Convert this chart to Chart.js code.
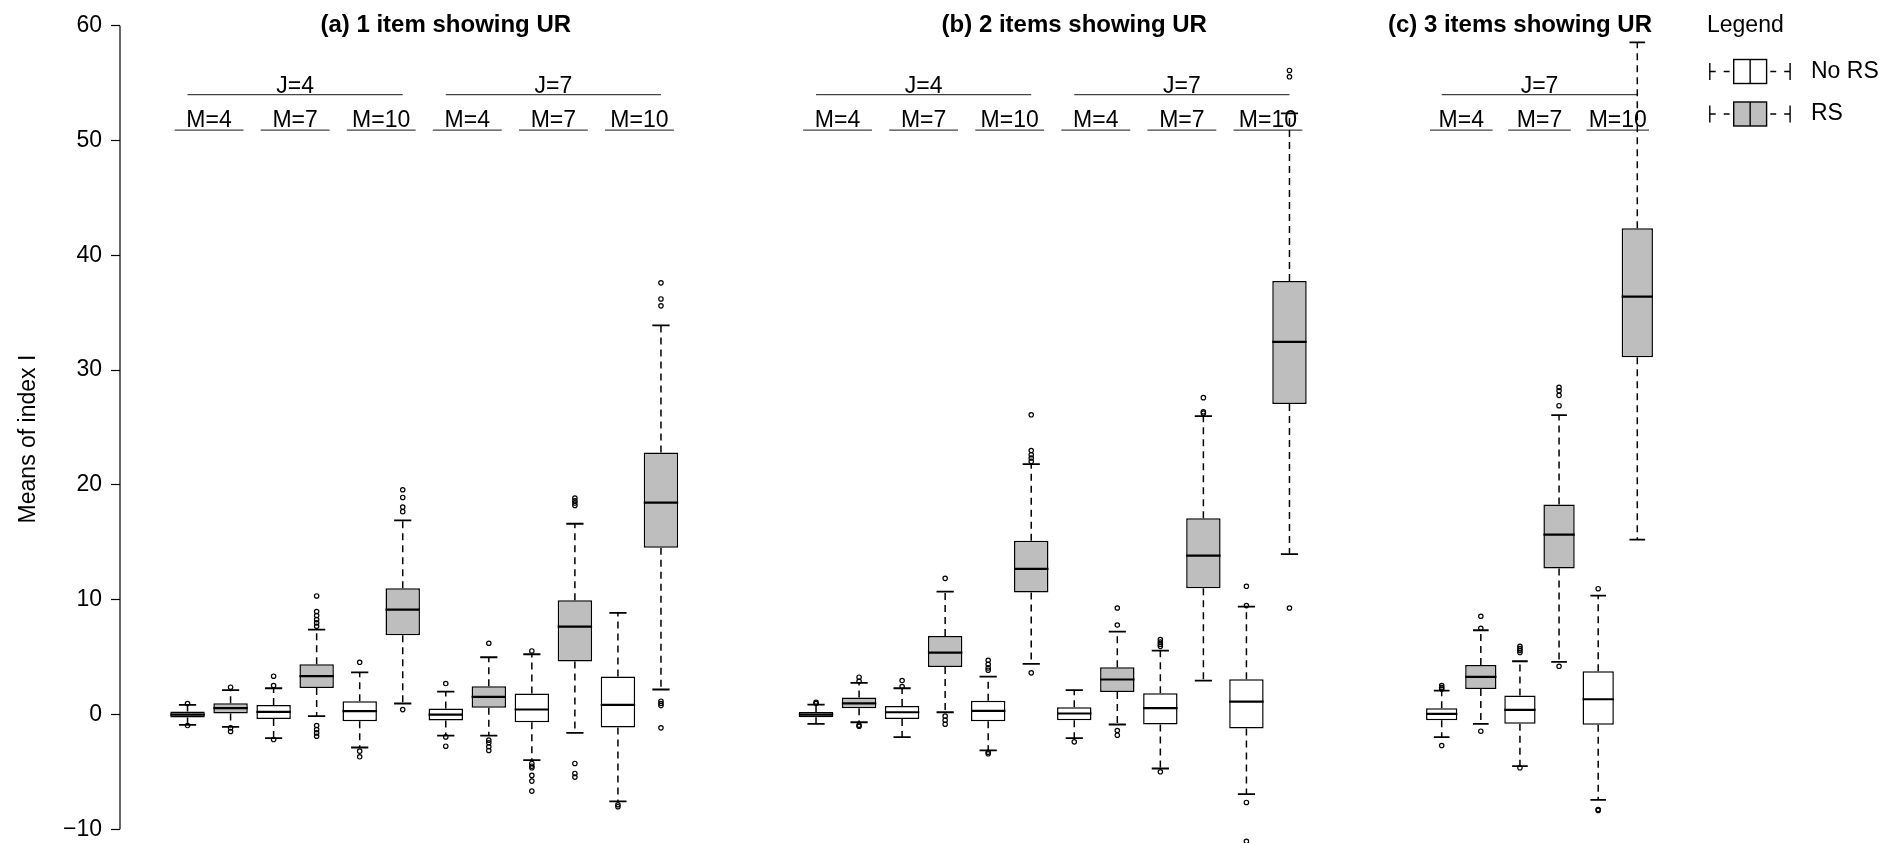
<!DOCTYPE html>
<html>
<head>
<meta charset="utf-8">
<script src="https://cdn.jsdelivr.net/npm/chart.js@4.4.1/dist/chart.umd.min.js"></script>
<style>
  html, body { margin: 0; padding: 0; background: #fff; overflow: hidden; }
  #wrap { position: relative; width: 1883px; height: 843px; overflow: hidden; }
  canvas { position: absolute; top: 0; }
</style>
</head>
<body>
<div id="wrap">
  <canvas id="panelA" width="740" height="880" style="left:0px"></canvas>
  <canvas id="panelB" width="630" height="880" style="left:740px"></canvas>
  <canvas id="panelC" width="513" height="880" style="left:1370px"></canvas>
</div>
<script>
// labels
const titles = ['(a) 1 item showing UR', '(b) 2 items showing UR', '(c) 3 items showing UR'];
const jLevelsAB = ['J=4', 'J=7'];
const jLevelsC = ['J=7'];
const mLevels = ['M=4', 'M=7', 'M=10'];
const legendLabels = ['No RS', 'RS'];
const yTicks = [-10, 0, 10, 20, 30, 40, 50, 60];

// (a) 1 item showing UR : boxes left to right (J=4 then J=7, M=4/7/10, pairs)
const aGroup = ['RS', 'RS', 'No RS', 'RS', 'No RS', 'RS', 'No RS', 'RS', 'No RS', 'RS', 'No RS', 'RS'];
const aLow  = [-0.90, -1.07, -2.06, -0.14, -2.87, 0.96, -1.83, -1.83, -3.97, -1.60, -7.57, 2.18];
const aQ1   = [-0.26, 0.09, -0.38, 2.32, -0.58, 6.90, -0.52, 0.58, -0.67, 4.61, -1.13, 14.53];
const aMed  = [0.00, 0.55, 0.23, 3.34, 0.29, 9.14, 0.00, 1.54, 0.44, 7.66, 0.84, 18.45];
const aQ3   = [0.26, 0.98, 0.84, 4.38, 1.16, 10.99, 0.52, 2.47, 1.83, 9.95, 3.31, 22.83];
const aHigh = [0.84, 2.12, 2.29, 7.40, 3.68, 16.91, 2.00, 4.99, 5.25, 16.62, 8.85, 33.90];
const aOut = [
  [0.96, -0.96],
  [2.38, -1.16, -1.48],
  [2.52, 3.34, -2.18],
  [10.33, 8.97, 8.62, 8.27, 7.98, 7.69, -0.96, -1.31, -1.60, -1.89],
  [4.55, -3.19, -3.68],
  [19.58, 18.91, 18.07, 17.67, 0.43],
  [2.70, -1.95, -2.76],
  [6.21, -2.23, -2.46, -2.81, -3.13],
  [5.54, -4.26, -4.50, -4.64, -5.30, -5.80, -6.67],
  [18.86, 18.62, 18.42, 18.21, -4.26, -5.13, -5.45],
  [-7.86, -8.03],
  [37.6, 36.2, 35.6, 1.16, 0.96, 0.78, -1.16]
];

// (b) 2 items showing UR
const bGroup = ['RS', 'RS', 'No RS', 'RS', 'No RS', 'RS', 'No RS', 'RS', 'No RS', 'RS', 'No RS', 'RS'];
const bLow  = [-0.81, -0.67, -1.97, 0.20, -3.13, 4.41, -2.06, -0.87, -4.70, 2.96, -6.93, 13.98];
const bQ1   = [-0.23, 0.55, -0.38, 4.15, -0.58, 10.64, -0.49, 1.97, -0.87, 10.99, -1.22, 27.04];
const bMed  = [0.00, 0.98, 0.20, 5.40, 0.32, 12.68, 0.09, 3.05, 0.55, 13.84, 1.13, 32.46];
const bQ3   = [0.23, 1.48, 0.75, 6.85, 1.19, 15.14, 0.64, 4.12, 1.86, 17.09, 3.07, 37.77];
const bHigh = [0.87, 2.76, 2.29, 10.70, 3.31, 21.82, 2.12, 7.22, 5.57, 26.00, 9.40, 52.37];
const bOut = [
  [1.07, 0.96],
  [3.25, 2.90, -0.93, -1.02],
  [2.96, 2.44],
  [11.86, -0.14, -0.49, -0.84],
  [4.73, 4.38, 4.06, 3.86, -3.28, -3.42],
  [26.11, 23.00, 22.63, 22.34, 22.05, 3.63],
  [-2.38],
  [9.28, 7.80, -1.39, -1.80],
  [6.53, 6.32, 6.12, 5.94, -4.99],
  [27.6, 26.37, 26.25],
  [11.17, 9.49, -7.66, -11.04],
  [56.1, 55.55, 9.28]
];

// (c) 3 items showing UR (J=7 only)
const cGroup = ['No RS', 'RS', 'No RS', 'RS', 'No RS', 'RS'];
const cLow  = [-1.97, -0.81, -4.50, 4.58, -7.43, 15.23];
const cQ1   = [-0.49, 2.23, -0.81, 12.73, -0.90, 31.13];
const cMed  = [0.06, 3.28, 0.41, 15.67, 1.33, 36.40];
const cQ3   = [0.55, 4.32, 1.65, 18.30, 3.77, 42.36];
const cHigh = [2.09, 7.34, 4.64, 26.08, 10.36, 58.55];
const cOut = [
  [2.52, 2.35, 2.23, -2.70],
  [8.56, 7.51, -1.45],
  [5.94, 5.74, 5.57, 5.40, -4.64],
  [28.5, 28.2, 27.8, 26.9, 4.20],
  [10.96, -8.27, -8.35],
  []
];

const FONT = '"Liberation Sans", Arial, Helvetica, sans-serif';
const GRAY = '#bebebe';
const J_ROW = 54.0;   // header rule heights, in y units
const M_ROW = 50.9;

Chart.defaults.font.family = FONT;
Chart.defaults.color = '#000';

function makePanel(canvasId, p) {
  const boxes = [], medians = [], whiskers = [], caps = [], points = [], rules = [];

  p.med.forEach((m, i) => {
    const x = i + 1;
    boxes.push({x: x, y: [p.q1[i], p.q3[i]]});
    medians.push({x: x - 0.4, y: m}, {x: x + 0.4, y: m}, {x: x, y: null});
    whiskers.push({x: x, y: p.q3[i]}, {x: x, y: p.high[i]}, {x: x, y: null},
                  {x: x, y: p.q1[i]}, {x: x, y: p.low[i]}, {x: x, y: null});
    caps.push({x: x - 0.2, y: p.high[i]}, {x: x + 0.2, y: p.high[i]}, {x: x, y: null},
              {x: x - 0.2, y: p.low[i]}, {x: x + 0.2, y: p.low[i]}, {x: x, y: null});
    p.out[i].forEach(v => points.push({x: x, y: v}));
  });

  // group rules: J spans its six boxes, M spans its pair
  p.jLevels.forEach((j, g) => {
    rules.push({x: 6 * g + 1, y: J_ROW}, {x: 6 * g + 6, y: J_ROW}, {x: 6 * g + 6, y: null});
    mLevels.forEach((m, k) => {
      const c = 6 * g + 2 * k + 1.5;
      rules.push({x: c - 0.8, y: M_ROW}, {x: c + 0.8, y: M_ROW}, {x: c + 0.8, y: null});
    });
  });

  const headerText = {
    id: 'headerText',
    afterDraw(chart) {
      const ctx = chart.ctx, sx = chart.scales.x, sy = chart.scales.y;
      ctx.save();
      ctx.fillStyle = '#000';
      ctx.textAlign = 'center';
      ctx.textBaseline = 'alphabetic';
      ctx.font = 'bold 24px ' + FONT;
      ctx.fillText(p.title, sx.getPixelForValue(p.titleX), 32);
      ctx.font = '23px ' + FONT;
      p.jLevels.forEach((j, g) => {
        ctx.fillText(j, sx.getPixelForValue(6 * g + 3.5), sy.getPixelForValue(J_ROW) - 2);
        mLevels.forEach((m, k) => {
          ctx.fillText(m, sx.getPixelForValue(6 * g + 2 * k + 1.5), sy.getPixelForValue(M_ROW) - 3);
        });
      });
      if (p.showY) {
        // R style axis line: only from first to last tick
        ctx.strokeStyle = '#000';
        ctx.lineWidth = 1.2;
        ctx.beginPath();
        ctx.moveTo(chart.chartArea.left, sy.getPixelForValue(yTicks[yTicks.length - 1]));
        ctx.lineTo(chart.chartArea.left, sy.getPixelForValue(yTicks[0]));
        ctx.stroke();
      }
      ctx.restore();
    }
  };

  const lineSet = (data, width, dash, color, order) => ({
    type: 'line', data: data, borderColor: color, borderWidth: width, borderDash: dash,
    pointRadius: 0, fill: false, tension: 0, spanGaps: false, clip: false, order: order
  });

  return new Chart(document.getElementById(canvasId), {
    type: 'bar',
    data: {
      datasets: [
        {
          type: 'bar', data: boxes, order: 2, clip: false,
          backgroundColor: p.group.map(g => g === 'RS' ? GRAY : '#ffffff'),
          borderColor: '#000', borderWidth: 1.5, borderSkipped: false,
          categoryPercentage: 1, barPercentage: 0.8
        },
        lineSet(medians, 2.2, [], '#000', 1),
        lineSet(whiskers, 1.5, [7, 5], '#000', 4),
        lineSet(caps, 1.8, [], '#000', 3),
        lineSet(rules, 1.1, [], '#444', 5),
        {
          type: 'scatter', data: points, order: 0, clip: false,
          pointStyle: 'circle', pointRadius: 2.2, pointBorderWidth: 1.2,
          pointBackgroundColor: 'rgba(0,0,0,0)', pointBorderColor: '#000', showLine: false
        }
      ]
    },
    options: {
      responsive: false,
      animation: false,
      events: [],
      layout: {padding: p.padding},
      plugins: {legend: {display: false}, tooltip: {enabled: false}},
      scales: {
        x: {
          type: 'linear', display: false, min: p.xMin, max: p.xMax,
          ticks: {stepSize: 1, includeBounds: false}
        },
        y: {
          display: p.showY,
          min: -12, max: yTicks[yTicks.length - 1],
          afterFit: s => { s.width = p.axisWidth; },
          border: {display: false},
          grid: {drawOnChartArea: false, drawTicks: true, tickLength: 9, color: '#000', tickWidth: 1.2},
          ticks: {
            stepSize: 10, includeBounds: false, padding: 9, color: '#000',
            font: {family: FONT, size: 23},
            callback: v => v < 0 ? '\u2212' + Math.abs(v) : String(v)
          },
          title: {
            display: true, text: 'Means of index I', color: '#000',
            font: {family: FONT, size: 23}, padding: {top: 15, bottom: 0}
          }
        }
      }
    },
    plugins: [headerText].concat(p.extra || [])
  });
}

const legendBox = {
  id: 'legendBox',
  afterDraw(chart) {
    const ctx = chart.ctx;
    const capL = 339.8, boxL = 363.7, boxW = 32.9, capR = 420.1, textX = 441;
    ctx.save();
    ctx.fillStyle = '#000';
    ctx.textAlign = 'left';
    ctx.textBaseline = 'alphabetic';
    ctx.font = '23px ' + FONT;
    ctx.fillText('Legend', 337, 31.7);
    legendLabels.forEach((lab, r) => {
      const cy = 71.5 + r * 42.5;
      ctx.strokeStyle = '#000';
      ctx.lineWidth = 1.4;
      ctx.setLineDash([]);
      ctx.beginPath();
      ctx.moveTo(capL, cy - 8.5); ctx.lineTo(capL, cy + 8.5);
      ctx.moveTo(capR, cy - 8.5); ctx.lineTo(capR, cy + 8.5);
      ctx.stroke();
      ctx.setLineDash([5.9, 8]);
      ctx.beginPath();
      ctx.moveTo(capL, cy); ctx.lineTo(boxL, cy);
      ctx.stroke();
      ctx.beginPath();
      ctx.moveTo(capR, cy); ctx.lineTo(boxL + boxW, cy);
      ctx.stroke();
      ctx.setLineDash([]);
      ctx.fillStyle = lab === 'RS' ? GRAY : '#ffffff';
      ctx.fillRect(boxL, cy - 12, boxW, 24);
      ctx.strokeRect(boxL, cy - 12, boxW, 24);
      ctx.beginPath();
      ctx.moveTo(boxL + boxW / 2, cy - 12); ctx.lineTo(boxL + boxW / 2, cy + 12);
      ctx.stroke();
      ctx.fillStyle = '#000';
      ctx.textBaseline = 'middle';
      ctx.fillText(lab, textX, cy);
    });
    ctx.restore();
  }
};

makePanel('panelA', {
  title: titles[0], group: aGroup, low: aLow, q1: aQ1, med: aMed, q3: aQ3, high: aHigh, out: aOut,
  jLevels: jLevelsAB, xMin: 0.02, xMax: 12.98, showY: true, axisWidth: 120,
  padding: {left: 0, right: 11.5, top: 25.7, bottom: 27.7}, titleX: 7.0
});

makePanel('panelB', {
  title: titles[1], group: bGroup, low: bLow, q1: bQ1, med: bMed, q3: bQ3, high: bHigh, out: bOut,
  jLevels: jLevelsAB, xMin: 0.02, xMax: 12.98, showY: false, axisWidth: 0,
  padding: {left: 8.5, right: 13, top: 25.7, bottom: 27.7}, titleX: 7.0
});

makePanel('panelC', {
  title: titles[2], group: cGroup, low: cLow, q1: cQ1, med: cMed, q3: cQ3, high: cHigh, out: cOut,
  jLevels: jLevelsC, xMin: 0.26, xMax: 6.74, showY: false, axisWidth: 0,
  padding: {left: 17.4, right: 191.4, top: 25.7, bottom: 27.7}, titleX: 3.0, extra: [legendBox]
});
</script>
</body>
</html>
